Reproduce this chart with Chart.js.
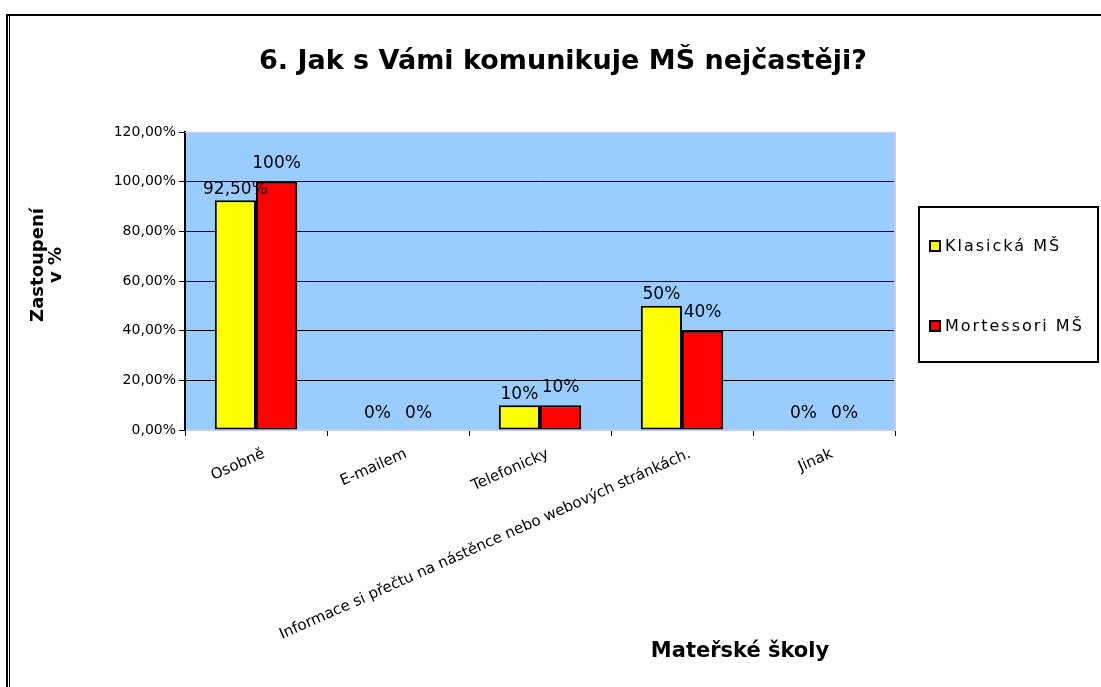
<!DOCTYPE html>
<html><head><meta charset="utf-8">
<script src="https://cdn.jsdelivr.net/npm/chart.js@4"></script>
<style>html,body{margin:0;padding:0;background:#fff}#wrap{width:1101px;height:687px}</style>
</head><body><div id="wrap"><canvas id="c" width="1101" height="687"></canvas></div>
<script>
const categories = ['Osobně','E-mailem','Telefonicky','Informace si přečtu na nástěnce nebo webových stránkách.','Jinak'];
const seriesNames = ['Klasická MŠ','Mortessori MŠ'];
const klasicka = [92.5, 0, 10, 50, 0];
const montessori = [100, 0, 10, 40, 0];
const klasickaLabels = ['92,50%','0%','10%','50%','0%'];
const montessoriLabels = ['100%','0%','10%','40%','0%'];
const yTickLabels = ['0,00%','20,00%','40,00%','60,00%','80,00%','100,00%','120,00%'];
const chartTitle = '6. Jak s Vámi komunikuje MŠ nejčastěji?';
const yTitle = ['Zastoupení','v %'];
const xTitle = 'Mateřské školy';

const deco = {
  id: 'deco',
  beforeDraw(chart) {
    const {ctx, chartArea: a} = chart;
    ctx.save();
    ctx.fillStyle = '#ffffff';
    ctx.fillRect(0, 0, chart.width, chart.height);
    ctx.fillStyle = '#99ccff';
    ctx.fillRect(a.left, a.top, a.right - a.left, a.bottom - a.top);
    ctx.restore();
  },
  beforeDatasetsDraw(chart) {
    const {ctx, chartArea: a} = chart;
    ctx.save();
    ctx.fillStyle = '#c8c8f4';
    ctx.fillRect(a.left, a.top, a.right - a.left, 1);
    ctx.fillRect(a.right - 1, a.top, 2, a.bottom - a.top);
    ctx.restore();
  },
  afterDatasetsDraw(chart) {
    const {ctx} = chart;
    ctx.save();
    ctx.font = '17px "DejaVu Sans"';
    ctx.fillStyle = '#000';
    ctx.textAlign = 'center';
    ctx.textBaseline = 'middle';
    chart.data.datasets.forEach((ds, di) => {
      const meta = chart.getDatasetMeta(di);
      meta.data.forEach((el, i) => {
        const lift = ds.data[i] === 0 ? 16 : ds.labelLift;
        ctx.fillText(ds.valueLabels[i], el.x, el.y - lift);
      });
    });
    ctx.restore();
  },
  afterDraw(chart) {
    const {ctx} = chart;
    ctx.save();
    ctx.fillStyle = '#000';
    // outer frame
    ctx.fillRect(6, 14, 1095, 2);
    ctx.fillRect(6, 14, 2, 673);
    ctx.fillRect(9, 16, 1, 671);
    // title
    ctx.textAlign = 'center';
    ctx.textBaseline = 'middle';
    ctx.font = 'bold 27px "DejaVu Sans"';
    ctx.fillText(chartTitle, 563, 62);
    // x title
    ctx.font = 'bold 21px "DejaVu Sans"';
    ctx.fillText(xTitle, 740, 652);
    // y title
    ctx.save();
    ctx.translate(38, 265);
    ctx.rotate(-Math.PI / 2);
    ctx.font = 'bold 18px "DejaVu Sans"';
    yTitle.forEach((t, i) => ctx.fillText(t, 0, i * 18));
    ctx.restore();
    // legend
    ctx.fillRect(918, 206, 181, 2);
    ctx.fillRect(918, 361, 181, 2);
    ctx.fillRect(918, 206, 2, 157);
    ctx.fillRect(1097, 206, 2, 157);
    const ys = [246, 326];
    ctx.font = '16px "DejaVu Sans"';
    ctx.letterSpacing = '2px';
    ctx.textAlign = 'left';
    chart.data.datasets.forEach((ds, i) => {
      ctx.fillStyle = '#000';
      ctx.fillRect(929, ys[i] - 6, 12, 12);
      ctx.fillStyle = ds.backgroundColor;
      ctx.fillRect(931, ys[i] - 4, 8, 8);
      ctx.fillStyle = '#000';
      ctx.fillText(ds.label, 945, ys[i] + 1);
    });
    ctx.restore();
  }
};

new Chart(document.getElementById('c'), {
  type: 'bar',
  data: {
    labels: categories,
    datasets: [
      {label: seriesNames[0], data: klasicka, valueLabels: klasickaLabels, labelLift: 11, backgroundColor: '#ffff00', borderColor: '#000', borderWidth: 2, borderSkipped: false, categoryPercentage: 0.58, barPercentage: 1.0},
      {label: seriesNames[1], data: montessori, valueLabels: montessoriLabels, labelLift: 18, backgroundColor: '#ff0000', borderColor: '#000', borderWidth: 2, borderSkipped: false, categoryPercentage: 0.58, barPercentage: 1.0}
    ]
  },
  options: {
    responsive: false,
    animation: false,
    devicePixelRatio: 1,
    layout: {padding: {top: 132, right: 206, left: 0, bottom: 0}},
    plugins: {legend: {display: false}, tooltip: {enabled: false}, title: {display: false}},
    scales: {
      x: {
        grid: {drawOnChartArea: false, drawTicks: true, tickLength: 6, color: '#000', tickColor: '#000'},
        border: {color: '#c8c8f4', width: 2},
        ticks: {minRotation: 24, maxRotation: 24, autoSkip: false, color: '#000', font: {family: 'DejaVu Sans', size: 15}, padding: 9, labelOffset: 8},
        afterFit(s) { s.height = 257; }
      },
      y: {
        min: 0, max: 120,
        grid: {color: (c) => (c.tick && c.tick.value > 0 && c.tick.value < 120) ? '#000' : 'rgba(0,0,0,0)', tickColor: '#000', tickLength: 6, lineWidth: 1},
        border: {color: '#000', width: 2},
        ticks: {stepSize: 20, color: '#000', font: {family: 'DejaVu Sans', size: 14}, padding: 3, callback: (v, i) => yTickLabels[i]},
        afterFit(s) { s.width = 185; }
      }
    }
  },
  plugins: [deco]
});
</script>
</body></html>
